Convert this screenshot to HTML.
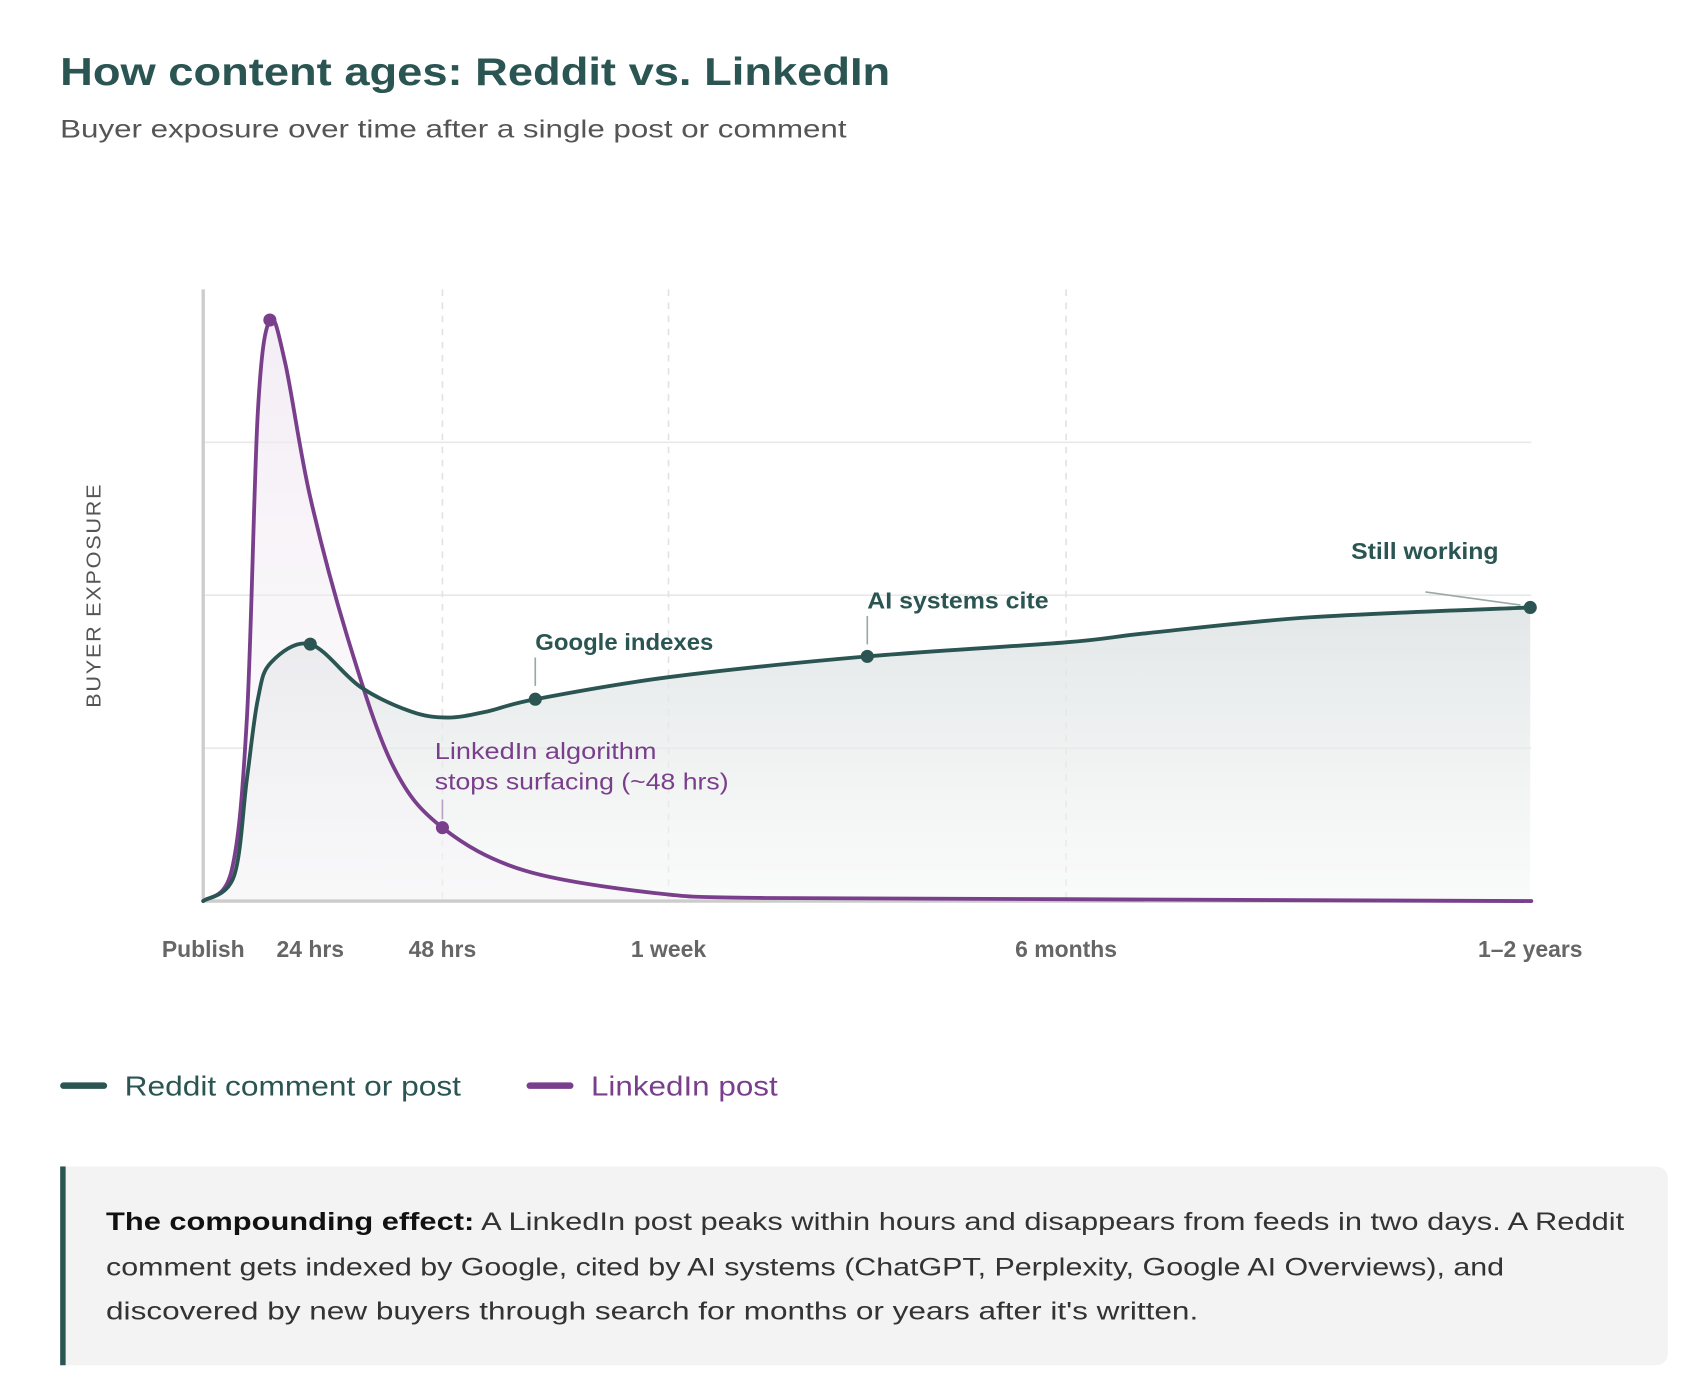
<!DOCTYPE html>
<html><head><meta charset="utf-8"><style>
html,body{margin:0;padding:0;background:#fff;}
svg{display:block;font-family:"Liberation Sans",sans-serif;}
</style></head><body>
<svg id="chart" width="1704" height="1398" viewBox="0 0 1560 1280" xmlns="http://www.w3.org/2000/svg">
<defs>
<linearGradient id="gR" x1="0" y1="0" x2="0" y2="1"><stop offset="0" stop-color="#dfe4e4" stop-opacity="0.9"/><stop offset="1" stop-color="#f4f5f5" stop-opacity="0.5"/></linearGradient>
<linearGradient id="gL" x1="0" y1="0" x2="0" y2="1"><stop offset="0" stop-color="#efe6f1" stop-opacity="0.9"/><stop offset="1" stop-color="#f6f2f7" stop-opacity="0.3"/></linearGradient>
</defs>
<text x="55" y="78" font-size="36" font-weight="bold" fill="#2a5552" textLength="760" lengthAdjust="spacingAndGlyphs">How content ages: Reddit vs. LinkedIn</text>
<text x="55" y="126" font-size="23" fill="#555" textLength="720" lengthAdjust="spacingAndGlyphs">Buyer exposure over time after a single post or comment</text>
<g id="grid"></g>
<g id="areas"></g>
<g id="lines"></g>
<g id="xlabels"></g>
<text transform="translate(92,545) rotate(-90)" text-anchor="middle" font-size="19" fill="#555" letter-spacing="1.5" textLength="206" lengthAdjust="spacingAndGlyphs">BUYER EXPOSURE</text>
<g id="annos">
<line x1="490" y1="602" x2="490" y2="628" stroke="#9aa9a8" stroke-width="1.5"/>
<text x="490" y="595" font-size="21" font-weight="bold" fill="#2a5552" textLength="163" lengthAdjust="spacingAndGlyphs">Google indexes</text>
<line x1="794" y1="564" x2="794" y2="590" stroke="#9aa9a8" stroke-width="1.5"/>
<text x="794" y="557" font-size="21" font-weight="bold" fill="#2a5552" textLength="166" lengthAdjust="spacingAndGlyphs">AI systems cite</text>
<line x1="1305" y1="542" x2="1392" y2="554" stroke="#9aa9a8" stroke-width="1.5"/>
<text x="1237" y="512" font-size="21" font-weight="bold" fill="#2a5552" textLength="135" lengthAdjust="spacingAndGlyphs">Still working</text>
<line x1="405" y1="732" x2="405" y2="750" stroke="#b9a0c4" stroke-width="1.5"/>
<text x="398" y="695" font-size="21" fill="#7a3f8c" textLength="203" lengthAdjust="spacingAndGlyphs">LinkedIn algorithm</text>
<text x="398" y="723" font-size="21" fill="#7a3f8c" textLength="269" lengthAdjust="spacingAndGlyphs">stops surfacing (~48 hrs)</text>
</g>
<g>
<line x1="58" y1="994" x2="95" y2="994" stroke="#2a5552" stroke-width="6" stroke-linecap="round"/>
<text x="114" y="1003" font-size="25" fill="#2a5552" textLength="308" lengthAdjust="spacingAndGlyphs">Reddit comment or post</text>
<line x1="485" y1="994" x2="522" y2="994" stroke="#7a3f8c" stroke-width="6" stroke-linecap="round"/>
<text x="541" y="1003" font-size="25" fill="#7a3f8c" textLength="171" lengthAdjust="spacingAndGlyphs">LinkedIn post</text>
</g>
<g>
<path d="M55,1068 H1515 Q1527,1068 1527,1080 V1238 Q1527,1250 1515,1250 H55 Z" fill="#f4f3f4"/>
<rect x="55" y="1068" width="5" height="182" fill="#2a5552"/>
<text x="97" y="1126" font-size="23" fill="#333" textLength="1390" lengthAdjust="spacingAndGlyphs"><tspan font-weight="bold" fill="#111">The compounding effect:</tspan> A LinkedIn post peaks within hours and disappears from feeds in two days. A Reddit</text>
<text x="97" y="1168" font-size="23" fill="#333" textLength="1280" lengthAdjust="spacingAndGlyphs">comment gets indexed by Google, cited by AI systems (ChatGPT, Perplexity, Google AI Overviews), and</text>
<text x="97" y="1208" font-size="23" fill="#333" textLength="1000" lengthAdjust="spacingAndGlyphs">discovered by new buyers through search for months or years after it's written.</text>
</g>
</svg>
<script>
// timeline position (0 = publish, 1216 = 1-2 years) and exposure (0-100)
const redditT = [0,28,40,50,62,98,144,190,224,260,304,426,608,790,864,1014,1215];
const redditY = [0,4,20,33,39,42,35,31,30,31,33,36.6,40,42.3,43.8,46.4,48];
const linkedinT = [0,26,40,50,61,75,98,134,174,219,294,414,514,790,1216];
const linkedinY = [0,5,30,80,95,88,66,42,22,12,5,1.3,0.5,0.3,0];
const tickLabels = ["Publish","24 hrs","48 hrs","1 week","6 months","1–2 years"];
const tickT = [0,98,219,426,790,1215];
const dashedT = [219,426,790];
const yTicks = [25,50,75];
const redditDots = [98,304,608,1215];
const linkedinDots = [61,219];

const X0=186, X1=1402, Y0=825, Y1=265;
const xs = t => X0 + t/1216*(X1-X0);
const ys = v => Y0 - v/100*(Y0-Y1);
const NS="http://www.w3.org/2000/svg";
function mk(tag, parent, attrs){const e=document.createElementNS(NS,tag);for(const k in attrs)e.setAttribute(k,attrs[k]);parent.appendChild(e);return e;}
function pathD(T,V){
  const p=T.map((t,i)=>[xs(t),ys(V[i])]);
  let d="M"+p[0][0]+","+p[0][1];
  for(let i=0;i<p.length-1;i++){
    const a=p[Math.max(i-1,0)],b=p[i],c=p[i+1],e=p[Math.min(i+2,p.length-1)];
    const c1=[b[0]+(c[0]-a[0])/6,b[1]+(c[1]-a[1])/6], c2=[c[0]-(e[0]-b[0])/6,c[1]-(e[1]-b[1])/6];
    d+=` C${c1[0]},${c1[1]} ${c2[0]},${c2[1]} ${c[0]},${c[1]}`;
  }
  return d;
}
function valAt(T,V,t){for(let i=0;i<T.length-1;i++){if(t>=T[i]&&t<=T[i+1]){return V[i]+(V[i+1]-V[i])*(t-T[i])/(T[i+1]-T[i]);}}return V[V.length-1];}
const grid=document.getElementById('grid');
yTicks.forEach(v=>{const l=mk('line',grid,{x1:X0,x2:X1,y1:ys(v),y2:ys(v),stroke:'#e8e8e8','stroke-width':1.5});

});
dashedT.forEach(t=>{const l=mk('line',grid,{x1:xs(t),x2:xs(t),y1:Y1,y2:Y0,stroke:'#e2e2e2','stroke-width':1.5,'stroke-dasharray':'6 6'});

});
const ax=mk('line',grid,{x1:X0,x2:X0,y1:Y1,y2:Y0,stroke:'#ccc','stroke-width':3});


const areas=document.getElementById('areas');
const rd=pathD(redditT,redditY), ld=pathD(linkedinT,linkedinY);
const ra=mk('path',areas,{d:rd+` L${xs(redditT[redditT.length-1])},${Y0} L${X0},${Y0} Z`,fill:'url(#gR)'});


const la=mk('path',areas,{d:ld+` L${xs(linkedinT[linkedinT.length-1])},${Y0} L${X0},${Y0} Z`,fill:'url(#gL)','fill-opacity':0.8});


const bx=mk('line',areas,{x1:X0,x2:X1,y1:Y0,y2:Y0,stroke:'#ccc','stroke-width':3});


const lines=document.getElementById('lines');
const ll=mk('path',lines,{d:ld,fill:'none',stroke:'#7a3f8c','stroke-width':3.5,'stroke-linecap':'round'});


const rl=mk('path',lines,{d:rd,fill:'none',stroke:'#2a5552','stroke-width':3.5,'stroke-linecap':'round'});


redditDots.forEach(t=>{const c=mk('circle',lines,{cx:xs(t),cy:ys(valAt(redditT,redditY,t)),r:6,fill:'#2a5552'});

});
linkedinDots.forEach(t=>{const c=mk('circle',lines,{cx:xs(t),cy:ys(valAt(linkedinT,linkedinY,t)),r:6,fill:'#7a3f8c'});

});
const xl=document.getElementById('xlabels');
tickLabels.forEach((s,i)=>{const e=mk('text',xl,{x:xs(tickT[i]),y:876,'text-anchor':'middle','font-size':21,'font-weight':'bold',fill:'#666'});e.textContent=s;

});
</script>
</body></html>
